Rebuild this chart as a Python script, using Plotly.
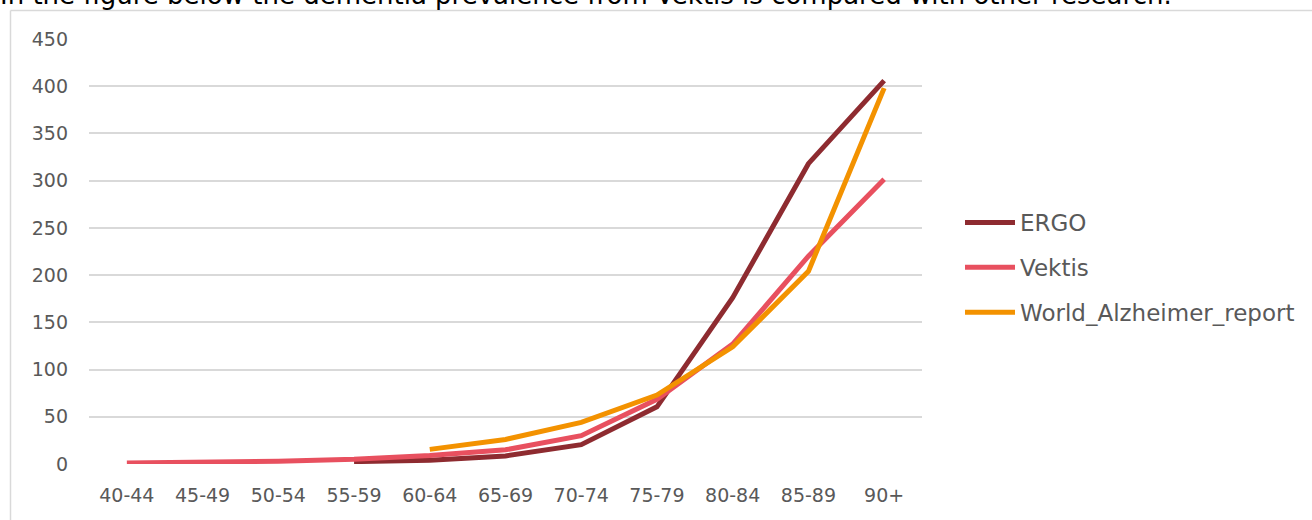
import plotly.graph_objects as go

categories = ["40-44", "45-49", "50-54", "55-59", "60-64", "65-69", "70-74", "75-79", "80-84", "85-89", "90+"]
ergo = [None, None, None, 2.5, 4, 8.5, 20.5, 60.5, 176, 318, 406]
vektis = [1, 1.5, 3, 5, 9, 15, 30, 68.5, 127, 220, 301.5]
world_alz = [None, None, None, None, 15.5, 26, 44, 73, 124, 204, 398]

FONT = "DejaVu Sans"
fig = go.Figure()
for name, vals, col in [("ERGO", ergo, "#8E2B30"), ("Vektis", vektis, "#E8505F"), ("World_Alzheimer_report", world_alz, "#F39200")]:
    fig.add_trace(go.Scatter(x=categories, y=vals, mode="lines", name=name, legendgroup=name,
                             line=dict(color=col, width=5), connectgaps=False))

L, R, T, B = 89, 922, 39, 464
W, H = 1312, 520
def px(x): return (x - L) / (R - L)
def py(y): return (B - y) / (B - T)

fig.update_layout(
    width=W, height=H,
    margin=dict(l=L, r=W - R, t=T, b=H - B, autoexpand=False),
    paper_bgcolor="white", plot_bgcolor="white",
    font=dict(family=FONT, color="#595959", size=19),
    xaxis=dict(type="category", showgrid=False, showline=False, ticks="",
               ticklabelstandoff=18,
               tickfont=dict(size=19, color="#595959"), range=[-0.5, 10.5]),
    yaxis=dict(range=[0, 450], dtick=50, showgrid=True, gridcolor="#D9D9D9", gridwidth=1.5,
               zeroline=False, showline=False, ticks="", ticklabelstandoff=20,
               tickfont=dict(size=19, color="#595959")),
    legend=dict(x=px(960), y=py(201), xanchor="left", yanchor="top",
                font=dict(size=23, color="#595959"), itemwidth=50,
                tracegroupgap=12, bgcolor="rgba(0,0,0,0)"),
    showlegend=True,
)
# chart frame
fig.add_shape(type="line", xref="paper", yref="paper", x0=px(10.5), x1=px(1320), y0=py(10.5), y1=py(10.5),
              line=dict(color="#D9D9D9", width=1.5))
fig.add_shape(type="line", xref="paper", yref="paper", x0=px(10.5), x1=px(10.5), y0=py(10.5), y1=py(530),
              line=dict(color="#D9D9D9", width=1.5))
fig.add_annotation(text="In the figure below the dementia prevalence from Vektis is compared with other research.",
                   xref="paper", yref="paper", x=px(-2), y=py(12), xanchor="left", yanchor="bottom",
                   showarrow=False, font=dict(family=FONT, size=26, color="#000000"))
fig.write_html("out.html")
